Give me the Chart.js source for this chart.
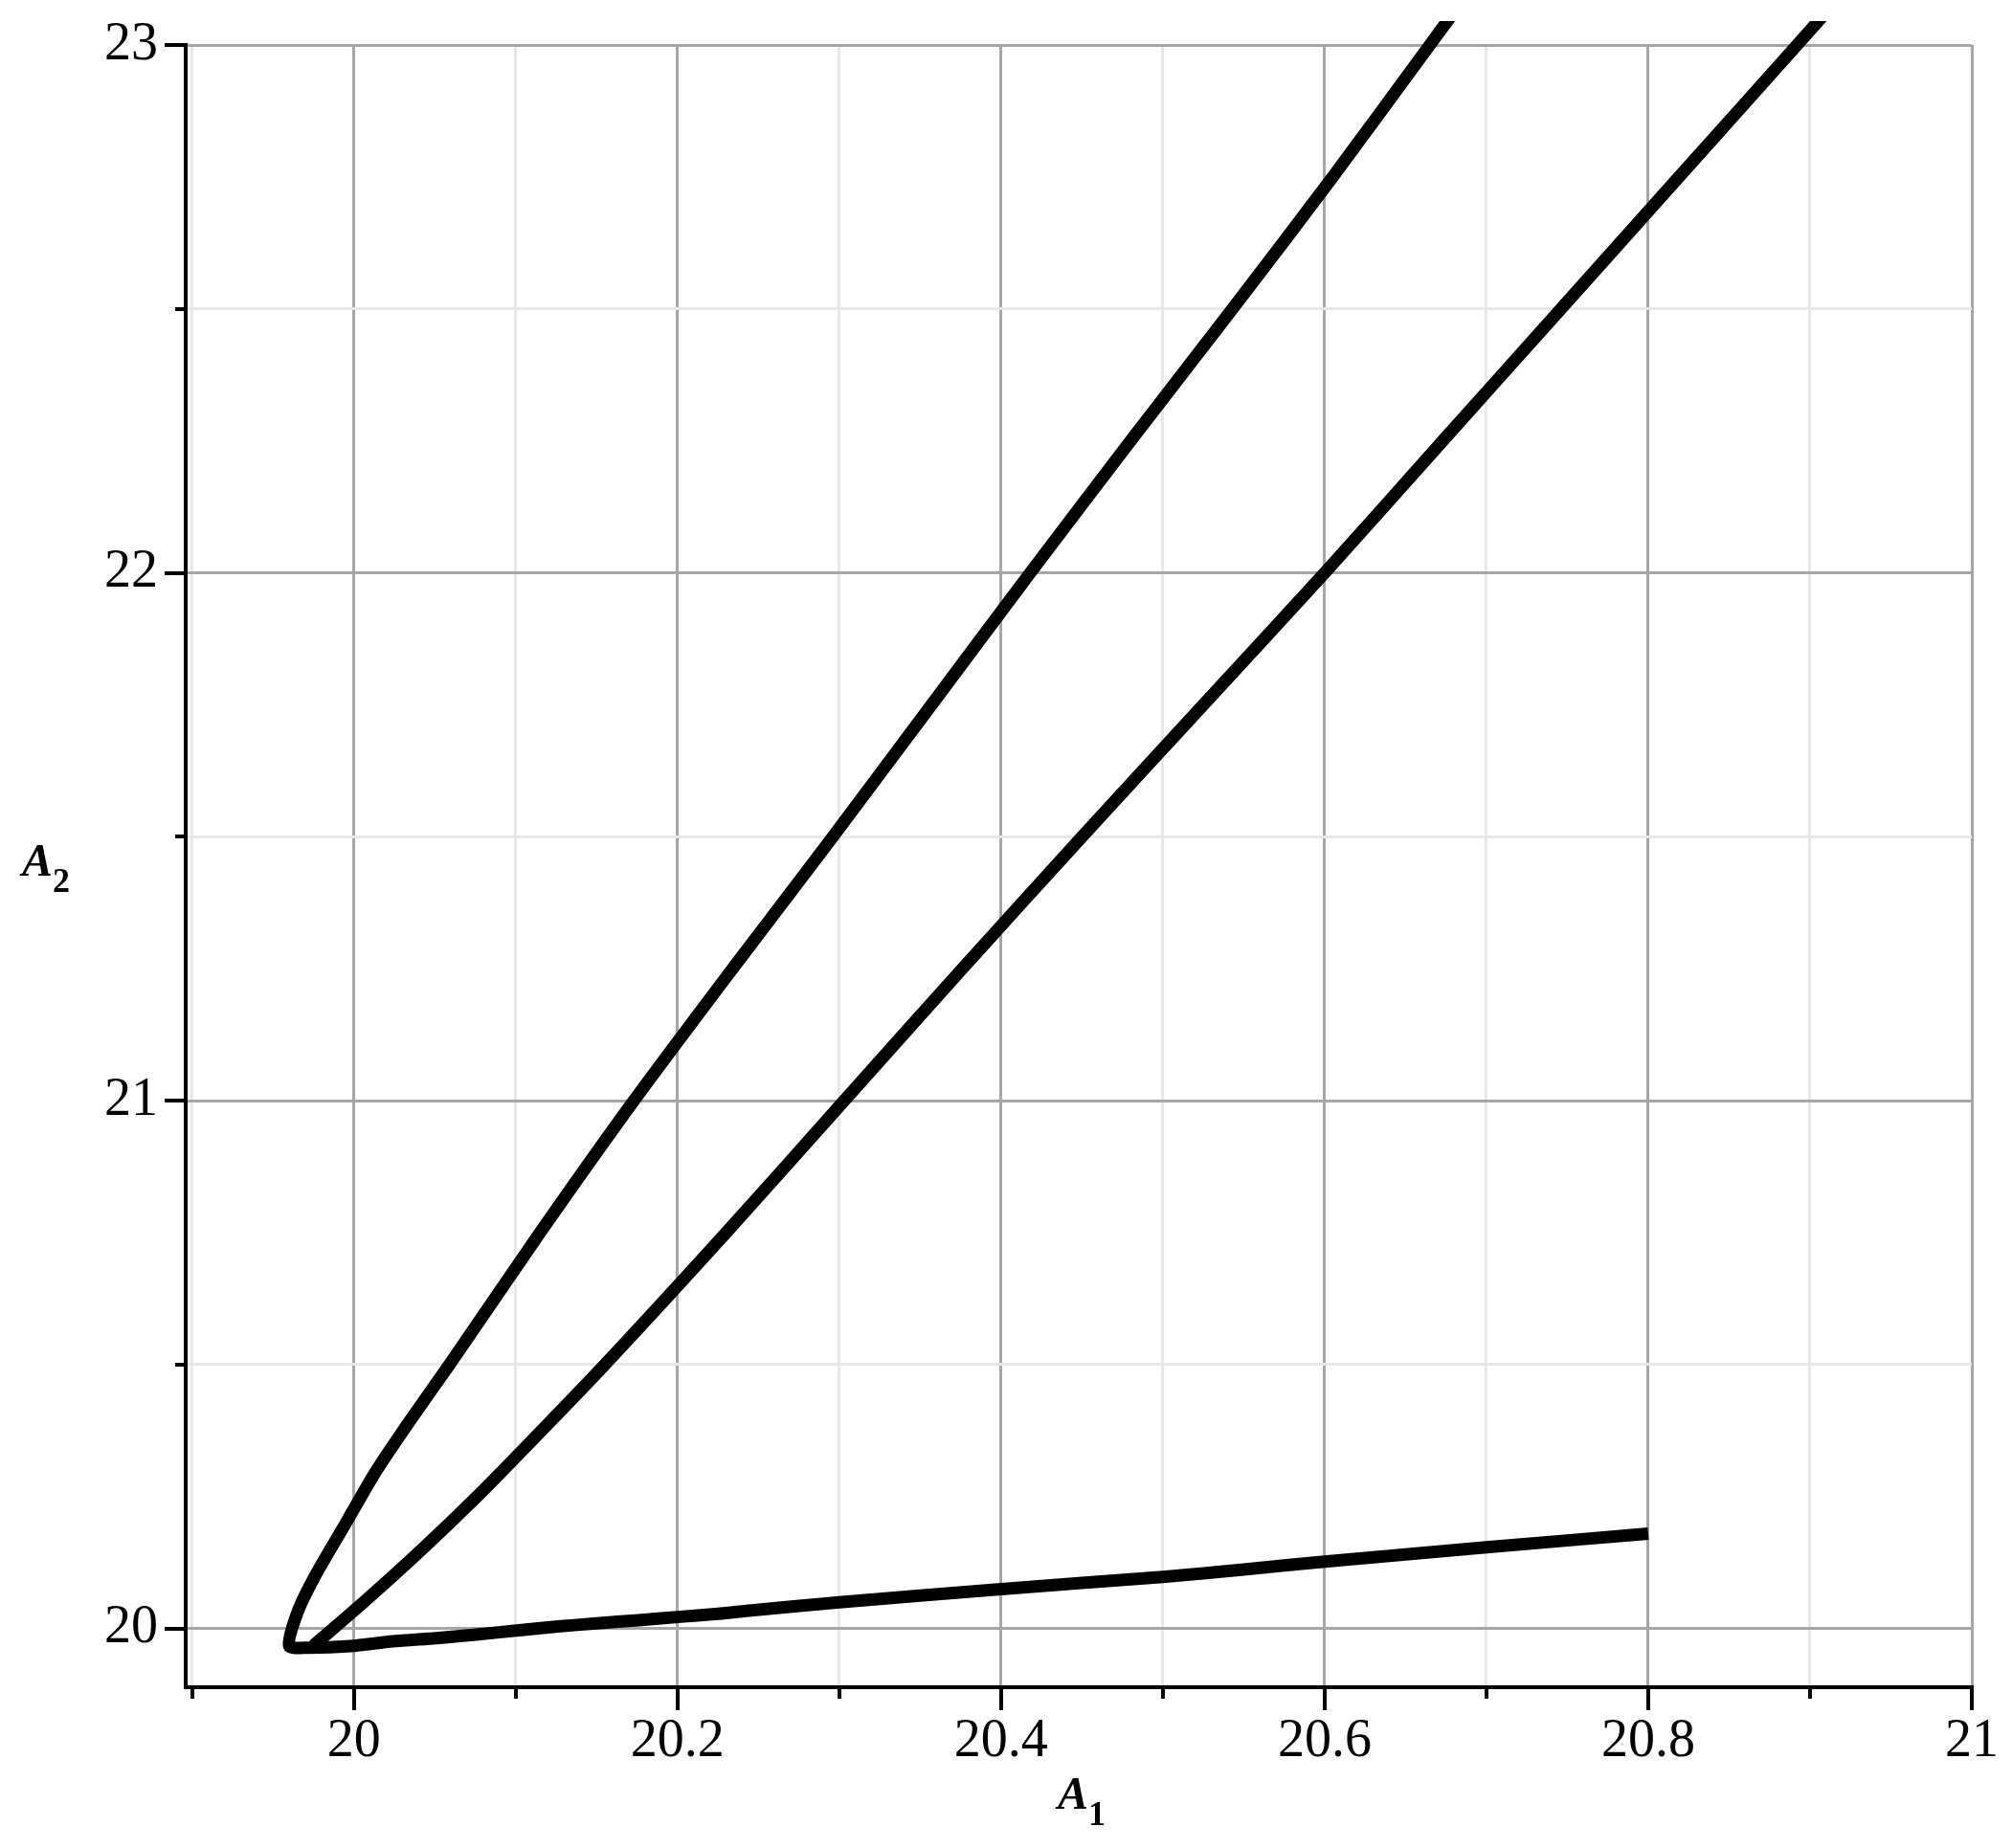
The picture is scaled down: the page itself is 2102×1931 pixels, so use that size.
<!DOCTYPE html>
<html>
<head>
<meta charset="utf-8">
<title>A1 - A2 curve</title>
<script src="https://cdn.jsdelivr.net/npm/chart.js@4.4.1/dist/chart.umd.min.js"></script>
<style>
    html, body { margin: 0; padding: 0; background: #ffffff; }
    #wrap { width: 2102px; height: 1931px; }
</style>
</head>
<body>
<div id="wrap"><canvas id="curveChart" width="2102" height="1931"></canvas></div>
<script>
// upper-left branch, starting at the cusp
var outerX = [19.960, 19.965, 19.976, 19.995, 20.014, 20.036, 20.059, 20.115, 20.173, 20.234,
    20.296, 20.357, 20.418, 20.480, 20.543, 20.605, 20.665, 20.689];
var outerY = [19.967, 20.030, 20.100, 20.200, 20.300, 20.400, 20.500, 20.750, 21.000, 21.250,
    21.500, 21.750, 22.000, 22.250, 22.500, 22.750, 23.000, 23.100];

// middle branch
var middleX = [19.975, 20.006, 20.042, 20.076, 20.108, 20.155, 20.230, 20.303, 20.376, 20.450,
    20.525, 20.600, 20.673, 20.746, 20.819, 20.892, 20.921];
var middleY = [19.968, 20.050, 20.150, 20.250, 20.350, 20.500, 20.750, 21.000, 21.250, 21.500,
    21.750, 22.000, 22.250, 22.500, 22.750, 23.000, 23.100];

// lower branch, from the cusp to A1 = 20.8
var lowerX = [19.960, 19.972, 19.998, 20.024, 20.051, 20.077, 20.102, 20.126, 20.150, 20.176,
    20.200, 20.225, 20.241, 20.300, 20.400, 20.500, 20.550, 20.600, 20.700, 20.800];
var lowerY = [19.967, 19.964, 19.967, 19.976, 19.982, 19.989, 19.997, 20.004, 20.010, 20.016,
    20.022, 20.028, 20.033, 20.050, 20.075, 20.098, 20.112, 20.127, 20.154, 20.180];

var xTicks = [19.9, 20, 20.1, 20.2, 20.3, 20.4, 20.5, 20.6, 20.7, 20.8, 20.9, 21];
var xLabels = [20, 20.2, 20.4, 20.6, 20.8, 21];
var yTicks = [20, 20.5, 21, 21.5, 22, 22.5, 23];
var yLabels = [20, 21, 22, 23];

var xTitle = ['A', '1'];
var yTitle = ['A', '2'];

var serif = "'Liberation Serif', 'Times New Roman', serif";

function toPoints(xs, ys) {
    return xs.map(function (x, i) { return { x: x, y: ys[i] }; });
}

function isMajor(value, labels) {
    return labels.some(function (l) { return Math.abs(l - value) < 1e-6; });
}

function drawSubTitle(ctx, parts, left, baseline) {
    ctx.font = 'italic bold 48px ' + serif;
    ctx.fillText(parts[0], left, baseline);
    var w = ctx.measureText(parts[0]).width;
    ctx.font = 'bold 36px ' + serif;
    ctx.fillText(parts[1], left + w, baseline + 17);
}

function subTitleWidth(ctx, parts) {
    ctx.font = 'italic bold 48px ' + serif;
    var w = ctx.measureText(parts[0]).width;
    ctx.font = 'bold 36px ' + serif;
    return w + ctx.measureText(parts[1]).width;
}

// tick marks (long for labelled, short otherwise) and the A1 / A2 titles
var axisDecor = {
    id: 'axisDecor',
    afterDraw: function (chart) {
        var ctx = chart.ctx;
        var area = chart.chartArea;
        var xs = chart.scales.x;
        var ys = chart.scales.y;

        ctx.save();
        ctx.strokeStyle = '#000000';
        ctx.lineWidth = 4;
        xs.ticks.forEach(function (t) {
            var px = Math.round(xs.getPixelForValue(t.value));
            var len = isMajor(t.value, xLabels) ? 24 : 12;
            ctx.beginPath();
            ctx.moveTo(px, area.bottom);
            ctx.lineTo(px, area.bottom + len);
            ctx.stroke();
        });
        ys.ticks.forEach(function (t) {
            var py = Math.round(ys.getPixelForValue(t.value));
            var len = isMajor(t.value, yLabels) ? 22 : 11;
            ctx.beginPath();
            ctx.moveTo(area.left, py);
            ctx.lineTo(area.left - len, py);
            ctx.stroke();
        });

        ctx.fillStyle = '#000000';
        ctx.textBaseline = 'alphabetic';
        ctx.textAlign = 'left';
        var cx = (area.left + area.right) / 2;
        var cy = (area.top + area.bottom) / 2;
        var w = subTitleWidth(ctx, xTitle);
        drawSubTitle(ctx, xTitle, cx - w / 2 + 3, area.bottom + 127);
        drawSubTitle(ctx, yTitle, 23, cy + 10);
        ctx.restore();
    }
};

function initCurveChart() {
    var ctx = document.getElementById('curveChart');
    if (!ctx) return;

    ctx = ctx.getContext('2d');

    var lineStyle = {
        showLine: true,
        borderColor: '#000000',
        borderWidth: 13,
        borderJoinStyle: 'round',
        borderCapStyle: 'butt',
        pointRadius: 0,
        pointHoverRadius: 0,
        tension: 0.3,
        fill: false,
        clip: { left: 0, top: 25, right: 0, bottom: 0 }
    };

    // outer branch runs down into the cusp and continues as the lower branch
    var leftPath = toPoints(outerX, outerY).reverse().concat(toPoints(lowerX, lowerY).slice(1));

    new Chart(ctx, {
        type: 'scatter',
        data: {
            datasets: [
                Object.assign({ label: 'outer', data: leftPath }, lineStyle, { tension: 0.25 }),
                Object.assign({ label: 'middle', data: toPoints(middleX, middleY) }, lineStyle)
            ]
        },
        options: {
            responsive: false,
            animation: false,
            events: [],
            layout: {
                padding: { top: 47, right: 42, bottom: 0, left: 0 }
            },
            plugins: {
                legend: { display: false },
                tooltip: { enabled: false }
            },
            scales: {
                x: {
                    type: 'linear',
                    min: 19.896,
                    max: 21,
                    afterBuildTicks: function (scale) {
                        scale.ticks = xTicks.map(function (v) { return { value: v }; });
                    },
                    afterFit: function (scale) {
                        scale.height = 168;
                        scale.paddingLeft = 0;
                        scale.paddingRight = 0;
                    },
                    grid: {
                        drawTicks: false,
                        lineWidth: 3,
                        color: function (c) {
                            return isMajor(c.tick.value, xLabels) ? '#a6a6a6' : '#e8e8e8';
                        }
                    },
                    border: { display: true, color: '#000000', width: 4 },
                    ticks: {
                        autoSkip: false,
                        maxRotation: 0,
                        padding: 24,
                        color: '#000000',
                        font: { family: serif, size: 56 },
                        callback: function (value) {
                            return isMajor(value, xLabels) ? String(value) : '';
                        }
                    }
                },
                y: {
                    type: 'linear',
                    min: 19.889,
                    max: 23,
                    afterBuildTicks: function (scale) {
                        scale.ticks = yTicks.map(function (v) { return { value: v }; });
                    },
                    afterFit: function (scale) {
                        scale.width = 194;
                        scale.paddingTop = 0;
                        scale.paddingBottom = 0;
                    },
                    grid: {
                        drawTicks: false,
                        lineWidth: 3,
                        color: function (c) {
                            return isMajor(c.tick.value, yLabels) ? '#a6a6a6' : '#e8e8e8';
                        }
                    },
                    border: { display: true, color: '#000000', width: 4 },
                    ticks: {
                        autoSkip: false,
                        padding: 29,
                        color: '#000000',
                        font: { family: serif, size: 56 },
                        callback: function (value) {
                            return isMajor(value, yLabels) ? String(value) : '';
                        }
                    }
                }
            }
        },
        plugins: [axisDecor]
    });
}

initCurveChart();
</script>
</body>
</html>
